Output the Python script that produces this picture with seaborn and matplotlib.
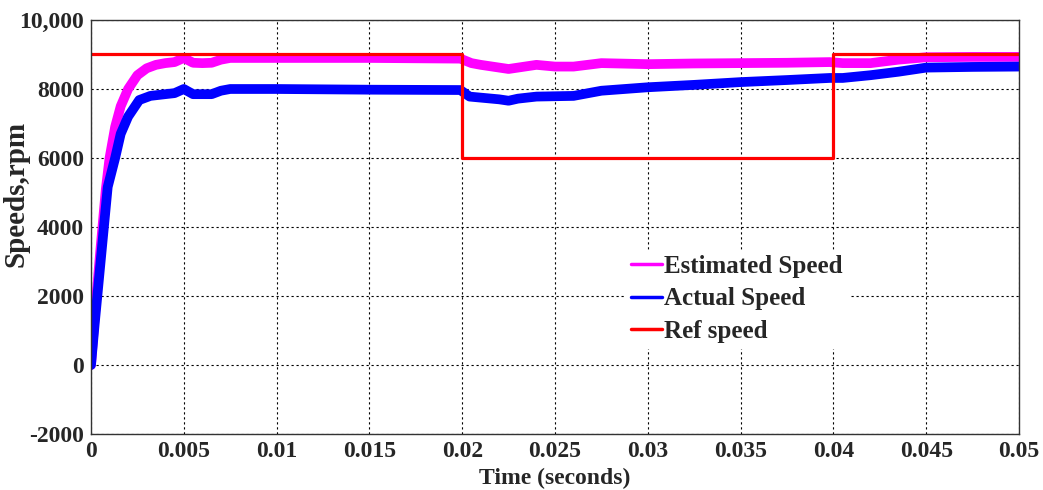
#!/usr/bin/env python3

import matplotlib
matplotlib.use('Agg')
import matplotlib.pyplot as plt
import matplotlib.ticker as mticker
import seaborn as sns

# ------------------------------------------------------------------
# values
# ------------------------------------------------------------------
est_time = [0, 0.0002, 0.0005, 0.0008, 0.001, 0.0013, 0.0016, 0.002, 0.0025, 0.003,
            0.0035, 0.004, 0.0045, 0.005, 0.0055, 0.006, 0.0065, 0.007, 0.0075, 0.01,
            0.015, 0.0199, 0.0205, 0.021, 0.022, 0.0225, 0.023, 0.024, 0.025, 0.026,
            0.0275, 0.03, 0.0325, 0.035, 0.0375, 0.0398, 0.0405, 0.042, 0.0435, 0.045,
            0.0475, 0.05]
est_speed = [0, 1400, 3300, 5100, 6000, 6900, 7500, 8000, 8400, 8600,
             8700, 8750, 8780, 8900, 8760, 8750, 8760, 8850, 8900, 8900,
             8900, 8880, 8750, 8700, 8620, 8580, 8620, 8700, 8650, 8650,
             8750, 8720, 8740, 8750, 8760, 8780, 8750, 8750, 8850, 8920,
             8930, 8930]

act_time = [0, 0.0002, 0.0005, 0.0009, 0.0013, 0.0016, 0.002, 0.0026, 0.0032, 0.004,
            0.0045, 0.005, 0.0055, 0.006, 0.0065, 0.007, 0.0075, 0.01, 0.015, 0.0199,
            0.0204, 0.021, 0.022, 0.0225, 0.023, 0.024, 0.026, 0.0275, 0.03, 0.0325,
            0.035, 0.0375, 0.0398, 0.0405, 0.042, 0.0435, 0.045, 0.0475, 0.05]
act_speed = [0, 1200, 2900, 5160, 6000, 6700, 7200, 7680, 7800, 7850,
             7880, 8000, 7850, 7850, 7850, 7950, 8000, 8000, 7980, 7970,
             7780, 7750, 7700, 7660, 7720, 7780, 7800, 7950, 8050, 8120,
             8200, 8260, 8320, 8320, 8400, 8500, 8620, 8640, 8650]

ref_time = [0, 0.02, 0.02, 0.04, 0.04, 0.05]
ref_speed = [9000, 9000, 6000, 6000, 9000, 9000]

x_ticks = [0, 0.005, 0.01, 0.015, 0.02, 0.025, 0.03, 0.035, 0.04, 0.045, 0.05]
x_labels = ['0', '0.005', '0.01', '0.015', '0.02', '0.025', '0.03', '0.035', '0.04', '0.045', '0.05']
y_ticks = [-2000, 0, 2000, 4000, 6000, 8000, 10000]
y_labels = ['-2000', '0', '2000', '4000', '6000', '8000', '10,000']

sns.set_style('white')
plt.rcParams['font.family'] = ['Liberation Serif', 'DejaVu Serif']
plt.rcParams['font.weight'] = 'bold'
plt.rcParams['axes.labelweight'] = 'bold'

fig = plt.figure(figsize=(10.43, 4.9), dpi=100)
ax = fig.add_axes([91 / 1043, 1 - 434 / 490, 928 / 1043, 414 / 490])

sns.lineplot(x=est_time, y=est_speed, color='#FF00FF', linewidth=7, sort=False,
             estimator=None, label='Estimated Speed', ax=ax)
sns.lineplot(x=act_time, y=act_speed, color='#0000FF', linewidth=7, sort=False,
             estimator=None, label='Actual Speed', ax=ax)
sns.lineplot(x=ref_time, y=ref_speed, color='#FF0000', linewidth=2.3, sort=False,
             estimator=None, label='Ref speed', ax=ax)

ax.set_xlim(0, 0.05)
ax.set_ylim(-2000, 10000)
ax.set_xticks(x_ticks)
ax.xaxis.set_major_formatter(mticker.FixedFormatter(x_labels))
ax.set_yticks(y_ticks)
ax.yaxis.set_major_formatter(mticker.FixedFormatter(y_labels))
ax.tick_params(axis='both', labelsize=17, direction='in', length=0, pad=5)
for lab in ax.get_xticklabels() + ax.get_yticklabels():
    lab.set_fontweight('bold')

ax.grid(True, color='black', linestyle=(0, (2, 2.5)), linewidth=0.8)
for sp in ax.spines.values():
    sp.set_color('#333333')
    sp.set_linewidth(1.0)

ax.set_xlabel('Time (seconds)', fontsize=17, fontweight='bold', labelpad=4)
ax.set_ylabel('Speeds,rpm', fontsize=21, fontweight='bold')
ax.yaxis.set_label_coords(-0.066, 0.58)

leg = ax.legend(loc='upper left', bbox_to_anchor=(0.576, 0.445), frameon=True,
                fontsize=18, handlelength=1.25, handletextpad=0.1, labelspacing=0.38,
                borderpad=0.2, borderaxespad=0, fancybox=False)
leg.get_frame().set_edgecolor('white')
leg.get_frame().set_facecolor('white')
leg.get_frame().set_alpha(1)
for line in leg.get_lines():
    line.set_linewidth(2.5)
for txt in leg.get_texts():
    txt.set_fontweight('bold')

plt.savefig('out.png', dpi=100)
